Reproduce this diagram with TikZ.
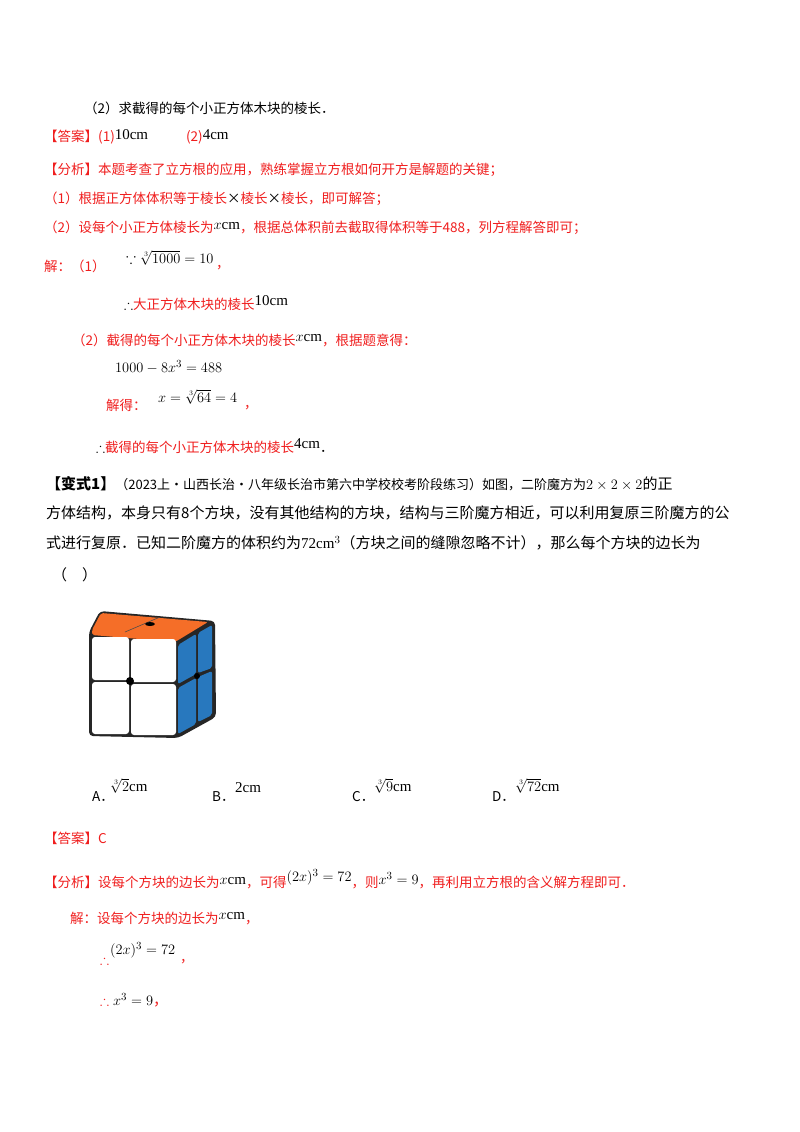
\documentclass[tikz,border=0pt]{standalone}
\usepackage{amssymb}
\usepackage{fontspec}
\setmainfont{Liberation Serif}
\newfontfamily\cjk{Noto Sans CJK SC}
\definecolor{rd}{RGB}{240,30,30}
\definecolor{org}{RGB}{245,110,40}
\definecolor{blu}{RGB}{40,120,190}
\begin{document}
\begin{tikzpicture}[x=1pt,y=-1pt,
 t/.style={anchor=west,inner sep=0pt,font=\fontsize{13.5}{15}\selectfont},
 r/.style={t,text=rd},
 k/.style={t,text=black},
 v/.style={k,font=\fontsize{15}{17}\selectfont}]
\useasboundingbox (0,0) rectangle (800,1132);
\fill[white] (0,0) rectangle (800,1132);
\newcommand\C{\cjk}
\newcommand\M{\normalfont\fontsize{15}{17}\selectfont\color{black}}
\node[k] (l1) at (84,108) {\C（2）求截得的每个小正方体木块的棱长．};
\node[r] (l2) at (44,137) {\C【答案】(1)\raisebox{2pt}{\M 10cm}\hspace{38pt}\C(2)\raisebox{2pt}{\M 4cm}};
\node[r] (l3) at (44,170) {\C【分析】本题考查了立方根的应用，熟练掌握立方根如何开方是解题的关键；};
\node[r] (l4) at (44,199) {\C（1）根据正方体体积等于棱长\textcolor{black}{×}棱长\textcolor{black}{×}棱长，即可解答；};
\node[r] (l5) at (44,228) {\C（2）设每个小正方体棱长为\raisebox{3pt}{\M $x$cm}，根据总体积前去截取得体积等于488，列方程解答即可；};
\node[r] (l6) at (44,266) {\C 解：（1）};
\node[k] (l6b) at (126,258) {\M $\because\sqrt[3]{1000}=10$};
\node[r] (l6c) at (216,268) {\C，};
\node[r] (l7) at (124,303) {\textcolor{black}{$\therefore$}\C 大正方体木块的棱长\raisebox{4pt}{\M 10cm}};
\node[r] (l8) at (72,340) {\C（2）截得的每个小正方体木块的棱长\raisebox{4pt}{\M $x$cm}，根据题意得：};
\node[k] (l9) at (115,367) {\M $1000-8x^{3}=488$};
\node[r] (l10) at (106,405) {\C 解得：};
\node[k] (l10b) at (158,397) {\M $x=\sqrt[3]{64}=4$};
\node[r] (l10c) at (244,408) {\C，};
\node[r] (l11) at (96,446) {\textcolor{black}{$\therefore$}\C 截得的每个小正方体木块的棱长\raisebox{4pt}{\M 4cm}\textcolor{black}{．}};
\node[v] (v1) at (46,484) {\C\textbf{【变式1】}\fontsize{13}{15}\selectfont（2023上·山西长治·八年级长治市第六中学校校考阶段练习）如图，二阶魔方为\M$2\times2\times2$\C 的正};
\node[v] (v2) at (46,513) {\C 方体结构，本身只有8个方块，没有其他结构的方块，结构与三阶魔方相近，可以利用复原三阶魔方的公};
\node[v] (v3) at (46,543) {\C 式进行复原．已知二阶魔方的体积约为\M 72cm$^3$\C（方块之间的缝隙忽略不计），那么每个方块的边长为};
\node[v] (v4) at (52,575) {\C（\quad）};
% cube
\fill[black!85,rounded corners=4pt] (89,632) -- (100,611) -- (215,621) -- (216,717) -- (178,738) -- (89,736) -- cycle;
\fill[org,rounded corners=2pt] (92,630) -- (101,613) -- (208,622) -- (175,642) -- (92,635) -- cycle;
\draw[black!70,line width=0.6pt] (125,632) -- (160,617);
\fill[black] (150,624) ellipse (5 and 2);
\fill[blu,rounded corners=2pt] (178,645) -- (196,634) -- (196,674) -- (178,684) -- cycle;
\fill[blu,rounded corners=2pt] (198,633) -- (212,625) -- (212,668) -- (198,673) -- cycle;
\fill[blu,rounded corners=2pt] (178,688) -- (196,678) -- (196,724) -- (178,734) -- cycle;
\fill[blu,rounded corners=2pt] (198,677) -- (212,671) -- (212,715) -- (198,722) -- cycle;
\fill[white,rounded corners=3pt] (92,637) rectangle (129,680);
\fill[white,rounded corners=3pt] (131,639) rectangle (176,682);
\fill[white,rounded corners=3pt] (92,682) rectangle (129,734);
\fill[white,rounded corners=3pt] (131,684) rectangle (176,735);
\fill[black] (130,681) circle (4);
\fill[black] (197,676) circle (3);
% options
\node[k] (oa) at (92,797) {\C A．};
\node[k] (oa2) at (110,786) {\M $\sqrt[3]{2}$cm};
\node[k] (ob) at (212,797) {\C B．};
\node[k] (ob2) at (235,788) {\M 2cm};
\node[k] (oc) at (352,797) {\C C．};
\node[k] (oc2) at (374,786) {\M $\sqrt[3]{9}$cm};
\node[k] (od) at (492,797) {\C D．};
\node[k] (od2) at (515,786) {\M $\sqrt[3]{72}$cm};
\node[r] (a2) at (44,838) {\C【答案】C};
\node[r] (f2) at (44,879) {\C【分析】设每个方块的边长为\raisebox{3pt}{\M $x$cm}，可得\raisebox{6pt}{\M $(2x)^3=72$}，则\raisebox{3pt}{\M $x^3=9$}，再利用立方根的含义解方程即可．};
\node[r] (s1) at (70,918) {\C 解：设每个方块的边长为\raisebox{3pt}{\M $x$cm}，};
\node[r] (s2) at (100,960) {$\therefore$};
\node[k] (s2b) at (110,950) {\M $(2x)^3=72$};
\node[r] (s2c) at (180,962) {\C，};
\node[r] (s3) at (100,1000) {$\therefore$\M$\;x^3=9$\color{rd}\C，};
\end{tikzpicture}
\end{document}
